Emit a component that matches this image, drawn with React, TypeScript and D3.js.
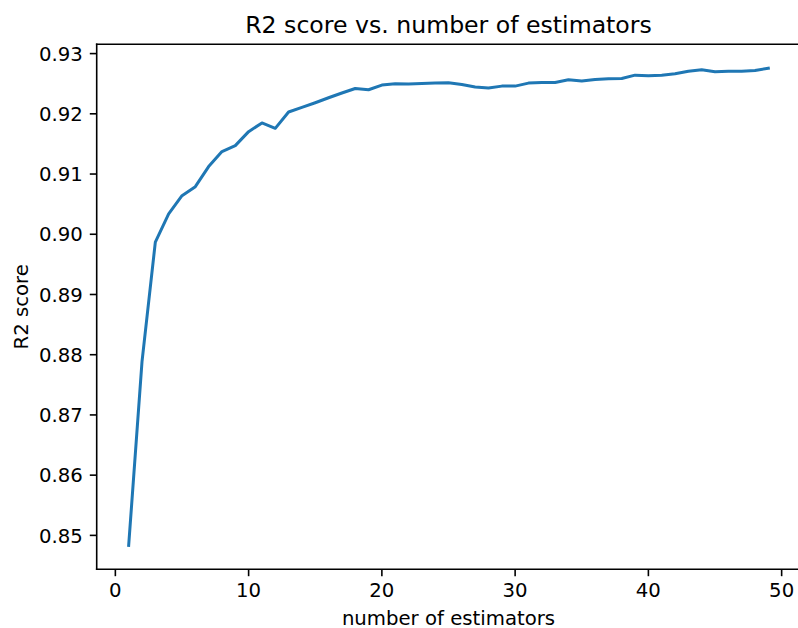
import React from "react";
import * as d3 from "d3";

const estimators: number[] = Array.from({ length: 49 }, (_, i) => i + 1);
const r2Scores: number[] = [
  0.84833, 0.87884, 0.8987, 0.9034, 0.9064, 0.9079, 0.91124, 0.91373, 0.91472, 0.91704,
  0.91848, 0.91759, 0.9203, 0.92106, 0.92184, 0.92267, 0.92346, 0.92421, 0.92399, 0.92477,
  0.92498, 0.92493, 0.92503, 0.9251, 0.92515, 0.92487, 0.92444, 0.92427, 0.9246, 0.9246,
  0.9251, 0.9252, 0.9252, 0.92565, 0.92543, 0.9257, 0.92581, 0.92586, 0.92642, 0.9263,
  0.92642, 0.92664, 0.92708, 0.9273, 0.92697, 0.92708, 0.92708, 0.92719, 0.92758,
];
const xTicks: number[] = [0, 10, 20, 30, 40, 50];
const yTicks: number[] = [0.85, 0.86, 0.87, 0.88, 0.89, 0.9, 0.91, 0.92, 0.93];
const titleText = "R2 score vs. number of estimators";
const xLabel = "number of estimators";
const yLabel = "R2 score";

const W = 798;
const H = 628;
const left = 96.7;
const right = 800.3;
const top = 44.3;
const bottom = 569.3;
const FONT = "DejaVu Sans";
const tickFs = 19.7;
const titleFs = 23.6;
const tickLen = 6.9;
const pad = 6.9;

export default function App() {
  const xMin = d3.min(estimators)!;
  const xMax = d3.max(estimators)!;
  const xm = (xMax - xMin) * 0.05;
  const yMin = d3.min(r2Scores)!;
  const yMax = d3.max(r2Scores)!;
  const ym = (yMax - yMin) * 0.05;
  const x = d3.scaleLinear().domain([xMin - xm, xMax + xm]).range([left, right]);
  const y = d3.scaleLinear().domain([yMin - ym, yMax + ym]).range([bottom, top]);
  const line = d3
    .line<number>()
    .x((_, i) => x(estimators[i]))
    .y((d) => y(d));
  const digitH = 0.729 * tickFs;

  return (
    <svg
      width={W}
      height={H}
      style={{ position: "absolute", left: 0, top: 0, background: "#fff" }}
      fontFamily={FONT}
    >
      <rect x={0} y={0} width={W} height={H} fill="#fff" />
      <path d={line(r2Scores) || ""} fill="none" stroke="#1f77b4" strokeWidth={3} strokeLinejoin="round" strokeLinecap="square" />
      {/* spines */}
      <line x1={left} y1={top} x2={left} y2={bottom} stroke="#000" strokeWidth={1.6} strokeLinecap="square" />
      <line x1={left} y1={bottom} x2={right} y2={bottom} stroke="#000" strokeWidth={1.6} strokeLinecap="square" />
      <line x1={left} y1={top} x2={right} y2={top} stroke="#000" strokeWidth={1.6} strokeLinecap="square" />
      <line x1={right} y1={top} x2={right} y2={bottom} stroke="#000" strokeWidth={1.6} strokeLinecap="square" />
      {/* x ticks */}
      {xTicks.map((t) => (
        <g key={"x" + t}>
          <line x1={x(t)} x2={x(t)} y1={bottom} y2={bottom + tickLen} stroke="#000" strokeWidth={1.6} />
          <text x={x(t)} y={bottom + tickLen + pad + digitH} fontSize={tickFs} textAnchor="middle" fill="#000">
            {t}
          </text>
        </g>
      ))}
      {/* y ticks */}
      {yTicks.map((t) => (
        <g key={"y" + t}>
          <line x1={left} x2={left - tickLen} y1={y(t)} y2={y(t)} stroke="#000" strokeWidth={1.6} />
          <text x={left - tickLen - pad} y={y(t) + digitH / 2} fontSize={tickFs} textAnchor="end" fill="#000">
            {t.toFixed(2)}
          </text>
        </g>
      ))}
      <text x={(left + right) / 2} y={33} fontSize={titleFs} textAnchor="middle" fill="#000">
        {titleText}
      </text>
      <text x={(left + right) / 2} y={625} fontSize={tickFs} textAnchor="middle" fill="#000">
        {xLabel}
      </text>
      <text
        transform={`translate(27.5, ${(top + bottom) / 2}) rotate(-90)`}
        fontSize={tickFs}
        textAnchor="middle"
        fill="#000"
      >
        {yLabel}
      </text>
    </svg>
  );
}
